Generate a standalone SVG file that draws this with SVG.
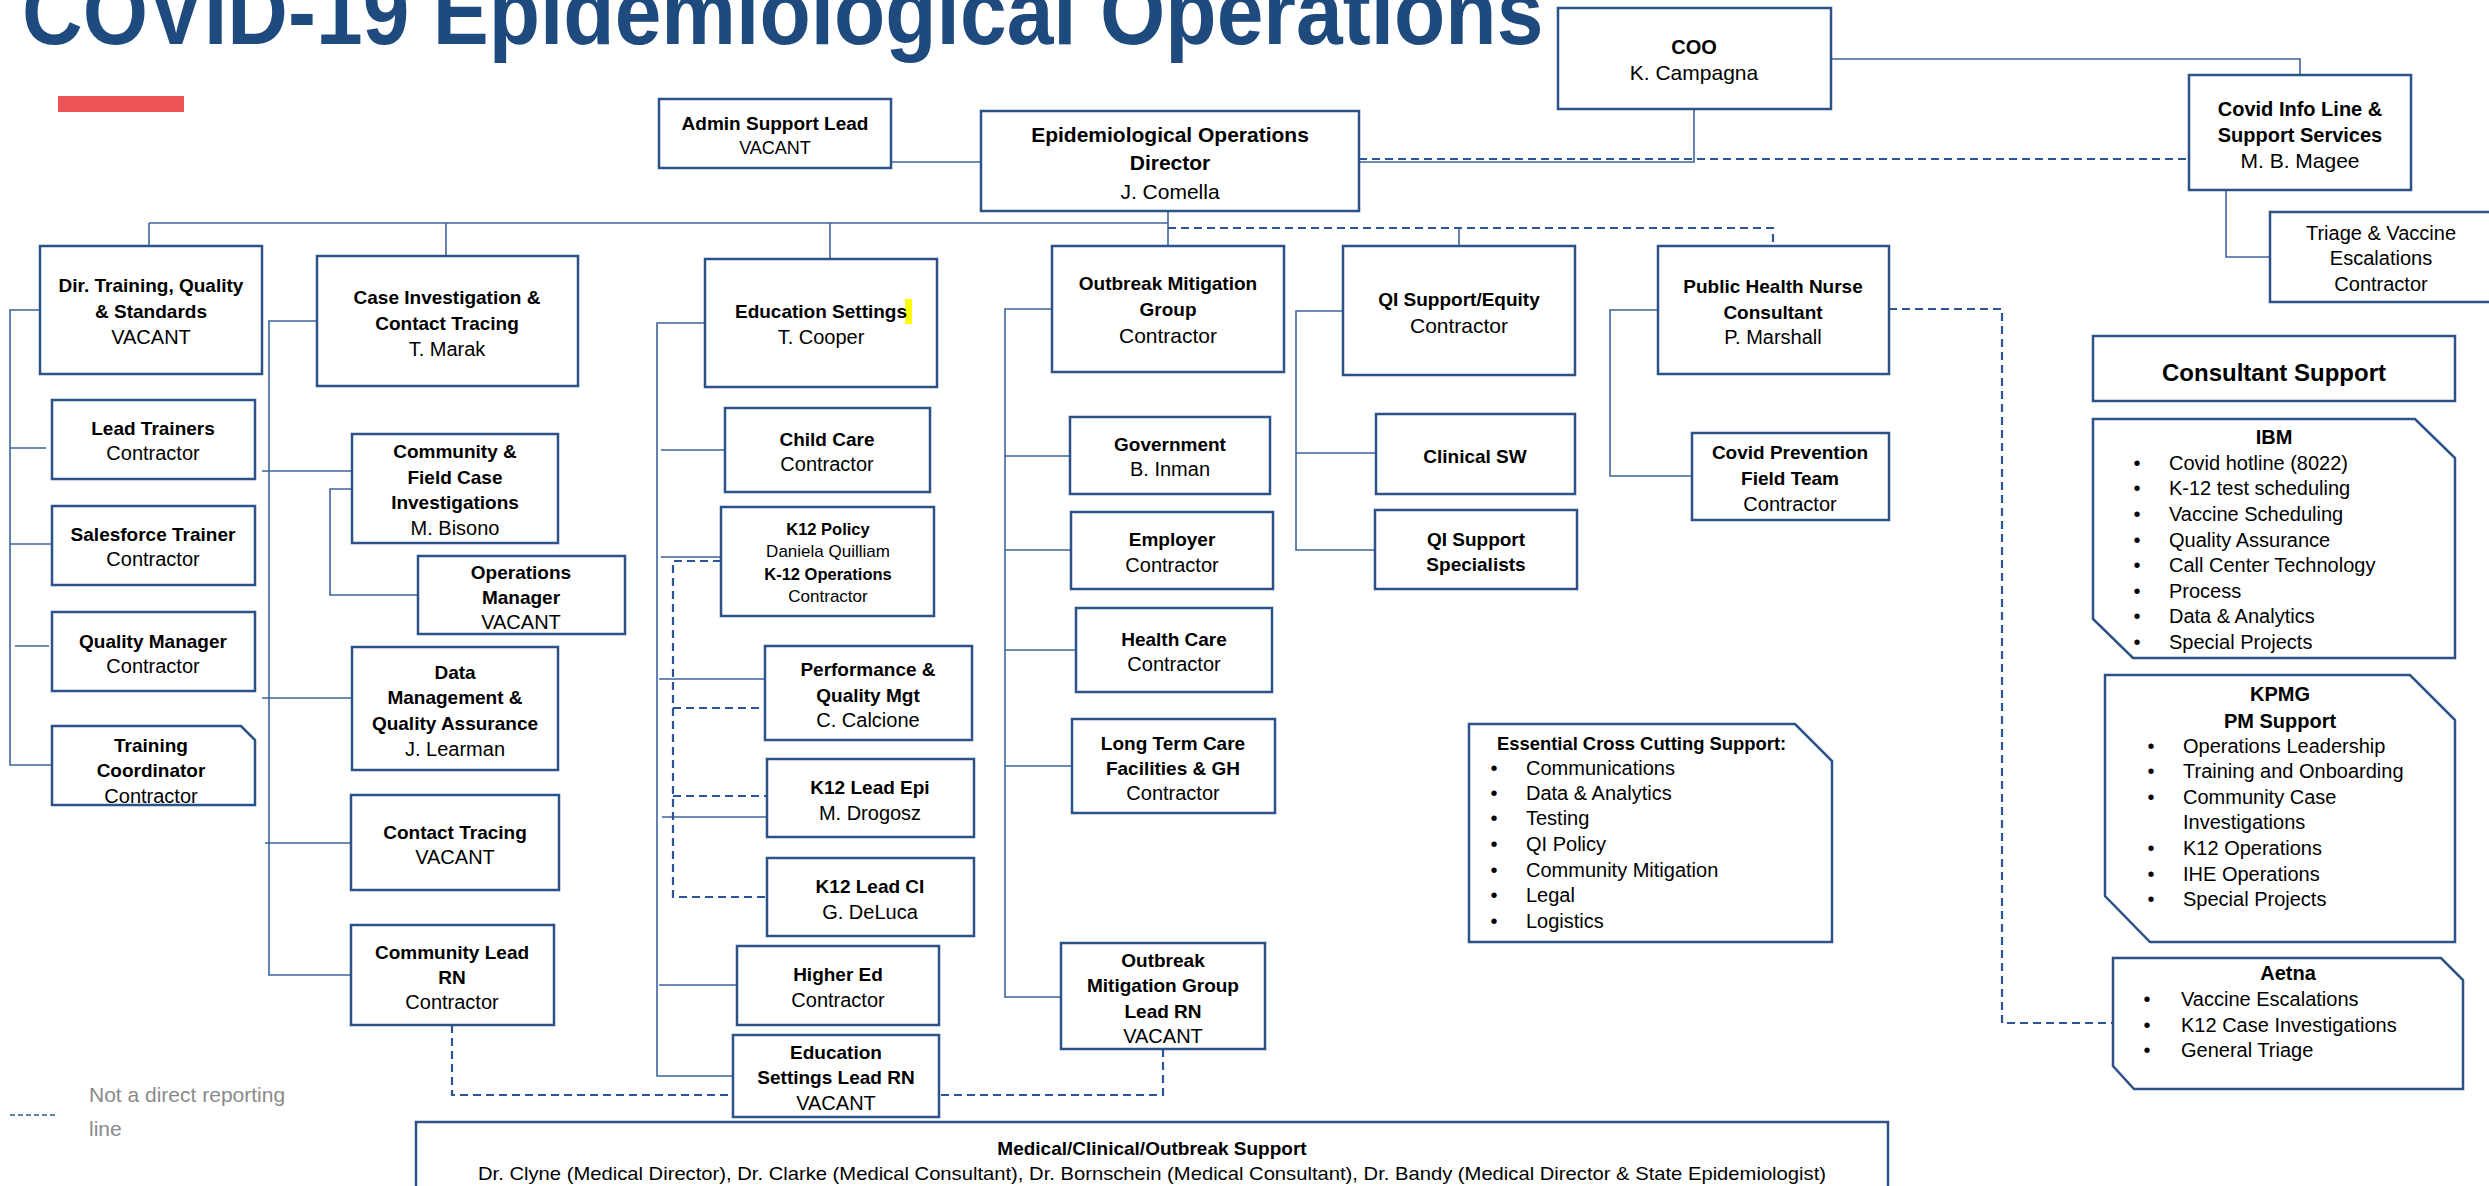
<svg xmlns="http://www.w3.org/2000/svg" width="2489" height="1186" viewBox="0 0 2489 1186">
<style>
text{font-family:"Liberation Sans",Arial,sans-serif;fill:#000;text-anchor:middle}
.box{fill:#fff;stroke:#2c5287;stroke-width:2.5}
.conn{fill:none;stroke:#3d649c;stroke-width:1.6}
.dash{fill:none;stroke:#2c5597;stroke-width:2.2;stroke-dasharray:8 5}
.b{font-weight:bold;font-size:19px}
.r{font-size:20px}
.bt{font-weight:bold;font-size:20px}
.rt{font-size:21px}
.s{font-size:17px}
.sb{font-weight:bold;font-size:16.5px}
.li{font-size:20px;text-anchor:start}
.bu{font-size:20px}
</style>
<rect width="2489" height="1186" fill="#fff"/>
<g id="title">
<text transform="translate(22,44) scale(0.913,1)" x="0" y="0" style="text-anchor:start;font-weight:bold;font-size:92px;fill:#1f4a7e">COVID-19 Epidemiological Operations</text>
<rect x="58" y="96" width="126" height="16" fill="#ee5358"/>
</g>
<g id="connectors">
<path class="conn" d="M891,162 H981"/>
<path class="conn" d="M1694,109 V162 H1359"/>
<path class="dash" d="M1359,159 H2189"/>
<path class="conn" d="M1831,59 H2300 V75"/>
<path class="conn" d="M2226,190 V257 H2270"/>
<path class="conn" d="M149,223 H1168 M1168,211 V246 M149,223 V246 M446,223 V256 M830,223 V259"/>
<path class="dash" d="M1168,228 H1773 V246"/>
<path class="conn" d="M1459,228 V246"/>
<path class="conn" d="M40,310 H10 V765 H52 M10,448 H46 M10,544 H55 M15,646 H49"/>
<path class="conn" d="M317,321 H269 V975 H351 M262,471 H352 M262,698 H352 M265,843 H351"/>
<path class="conn" d="M352,489 H330 V595 H418"/>
<path class="conn" d="M705,323 H657 V1076 H733 M661,450 H725 M661,557 H721 M659,679 H765 M662,817 H767 M659,985 H737"/>
<path class="dash" d="M721,561 H673 V897 H767 M673,708 H765 M673,796 H767"/>
<path class="conn" d="M1052,309 H1005 V997 H1061 M1005,456 H1070 M1005,550 H1071 M1005,650 H1076 M1005,766 H1072"/>
<path class="conn" d="M1343,311 H1296 V550 H1375 M1296,453 H1376"/>
<path class="conn" d="M1658,310 H1610 V476 H1692"/>
<path class="dash" d="M1889,309 H2002 V1023 H2112"/>
<path class="dash" d="M452,1025 V1095 H1163 V1050"/>
</g>
<g id="admin"><rect class="box" x="659" y="99" width="232" height="69"/>
<text class="b" x="775" y="130">Admin Support Lead</text><text class="r" x="775" y="154" style="font-size:18px">VACANT</text></g>
<g id="director"><rect class="box" x="981" y="111" width="378" height="100"/>
<text x="1170" y="142" style="font-weight:bold;font-size:21px">Epidemiological Operations</text>
<text x="1170" y="170" style="font-weight:bold;font-size:21px">Director</text>
<text x="1170" y="199" style="font-size:21px">J. Comella</text></g>
<g id="coo"><rect class="box" x="1558" y="8" width="273" height="101"/>
<text class="bt" x="1694" y="54">COO</text><text class="rt" x="1694" y="80">K. Campagna</text></g>
<g id="infoline"><rect class="box" x="2189" y="75" width="222" height="115"/>
<text class="bt" x="2300" y="116">Covid Info Line &amp;</text><text class="bt" x="2300" y="142">Support Services</text><text class="rt" x="2300" y="168">M. B. Magee</text></g>
<g id="triage"><rect class="box" x="2270" y="212" width="240" height="90"/>
<text class="r" x="2381" y="240">Triage &amp; Vaccine</text><text class="r" x="2381" y="265">Escalations</text><text class="r" x="2381" y="291">Contractor</text></g>
<g id="dirtraining"><rect class="box" x="40" y="246" width="222" height="128"/>
<text class="b" x="151" y="292">Dir. Training, Quality</text><text class="b" x="151" y="318">&amp; Standards</text><text class="r" x="151" y="344">VACANT</text></g>
<g id="leadtrainers"><rect class="box" x="52" y="400" width="203" height="79"/>
<text class="b" x="153" y="435">Lead Trainers</text><text class="r" x="153" y="460">Contractor</text></g>
<g id="salesforce"><rect class="box" x="52" y="506" width="203" height="79"/>
<text class="b" x="153" y="541">Salesforce Trainer</text><text class="r" x="153" y="566">Contractor</text></g>
<g id="qualitymgr"><rect class="box" x="52" y="612" width="203" height="79"/>
<text class="b" x="153" y="648">Quality Manager</text><text class="r" x="153" y="673">Contractor</text></g>
<g id="trainingcoord"><path class="box" d="M52,726 H241 L255,740 V805 H52 Z"/>
<text class="b" x="151" y="752">Training</text><text class="b" x="151" y="777">Coordinator</text><text class="r" x="151" y="803">Contractor</text></g>
<g id="caseinv"><rect class="box" x="317" y="256" width="261" height="130"/>
<text class="b" x="447" y="304">Case Investigation &amp;</text><text class="b" x="447" y="330">Contact Tracing</text><text class="r" x="447" y="356">T. Marak</text></g>
<g id="community"><rect class="box" x="352" y="434" width="206" height="109"/>
<text class="b" x="455" y="458">Community &amp;</text><text class="b" x="455" y="484">Field Case</text><text class="b" x="455" y="509">Investigations</text><text class="r" x="455" y="535">M. Bisono</text></g>
<g id="opsmgr"><rect class="box" x="418" y="556" width="207" height="78"/>
<text class="b" x="521" y="579">Operations</text><text class="b" x="521" y="604">Manager</text><text class="r" x="521" y="629">VACANT</text></g>
<g id="datamgmt"><rect class="box" x="352" y="647" width="206" height="123"/>
<text class="b" x="455" y="679">Data</text><text class="b" x="455" y="704">Management &amp;</text><text class="b" x="455" y="730">Quality Assurance</text><text class="r" x="455" y="756">J. Learman</text></g>
<g id="contacttracing"><rect class="box" x="351" y="795" width="208" height="95"/>
<text class="b" x="455" y="839">Contact Tracing</text><text class="r" x="455" y="864">VACANT</text></g>
<g id="communityrn"><rect class="box" x="351" y="925" width="203" height="100"/>
<text class="b" x="452" y="959">Community Lead</text><text class="b" x="452" y="984">RN</text><text class="r" x="452" y="1009">Contractor</text></g>
<g id="edsettings"><rect class="box" x="705" y="259" width="232" height="128"/>
<rect x="905" y="299" width="7" height="25" fill="#ffff00"/>
<text class="b" x="821" y="318">Education Settings</text><text class="r" x="821" y="344">T. Cooper</text></g>
<g id="childcare"><rect class="box" x="725" y="408" width="205" height="84"/>
<text class="b" x="827" y="446">Child Care</text><text class="r" x="827" y="471">Contractor</text></g>
<g id="k12policy"><rect class="box" x="721" y="507" width="213" height="109"/>
<text class="sb" x="828" y="535">K12 Policy</text><text class="s" x="828" y="557">Daniela Quilliam</text><text class="sb" x="828" y="580">K-12 Operations</text><text class="s" x="828" y="602">Contractor</text></g>
<g id="perfquality"><rect class="box" x="765" y="646" width="207" height="94"/>
<text class="b" x="868" y="676">Performance &amp;</text><text class="b" x="868" y="702">Quality Mgt</text><text class="r" x="868" y="727">C. Calcione</text></g>
<g id="k12epi"><rect class="box" x="767" y="759" width="207" height="78"/>
<text class="b" x="870" y="794">K12 Lead Epi</text><text class="r" x="870" y="820">M. Drogosz</text></g>
<g id="k12ci"><rect class="box" x="767" y="858" width="207" height="78"/>
<text class="b" x="870" y="893">K12 Lead CI</text><text class="r" x="870" y="919">G. DeLuca</text></g>
<g id="highered"><rect class="box" x="737" y="946" width="202" height="79"/>
<text class="b" x="838" y="981">Higher Ed</text><text class="r" x="838" y="1007">Contractor</text></g>
<g id="edleadrn"><rect class="box" x="733" y="1035" width="206" height="82"/>
<text class="b" x="836" y="1059">Education</text><text class="b" x="836" y="1084">Settings Lead RN</text><text class="r" x="836" y="1110">VACANT</text></g>
<g id="outbreak"><rect class="box" x="1052" y="246" width="232" height="126"/>
<text class="b" x="1168" y="290">Outbreak Mitigation</text><text class="b" x="1168" y="316">Group</text><text class="rt" x="1168" y="343">Contractor</text></g>
<g id="government"><rect class="box" x="1070" y="417" width="200" height="77"/>
<text class="b" x="1170" y="451">Government</text><text class="r" x="1170" y="476">B. Inman</text></g>
<g id="employer"><rect class="box" x="1071" y="512" width="202" height="77"/>
<text class="b" x="1172" y="546">Employer</text><text class="r" x="1172" y="572">Contractor</text></g>
<g id="healthcare"><rect class="box" x="1076" y="608" width="196" height="84"/>
<text class="b" x="1174" y="646">Health Care</text><text class="r" x="1174" y="671">Contractor</text></g>
<g id="longterm"><rect class="box" x="1072" y="719" width="203" height="94"/>
<text class="b" x="1173" y="750">Long Term Care</text><text class="b" x="1173" y="775">Facilities &amp; GH</text><text class="r" x="1173" y="800">Contractor</text></g>
<g id="omgleadrn"><rect class="box" x="1061" y="943" width="204" height="106"/>
<text class="b" x="1163" y="967">Outbreak</text><text class="b" x="1163" y="992">Mitigation Group</text><text class="b" x="1163" y="1018">Lead RN</text><text class="r" x="1163" y="1043">VACANT</text></g>
<g id="qisupport"><rect class="box" x="1343" y="246" width="232" height="129"/>
<text class="b" x="1459" y="306">QI Support/Equity</text><text class="rt" x="1459" y="333">Contractor</text></g>
<g id="clinicalsw"><rect class="box" x="1376" y="414" width="199" height="80"/>
<text class="b" x="1475" y="463">Clinical SW</text></g>
<g id="qispecialists"><rect class="box" x="1375" y="510" width="202" height="79"/>
<text class="b" x="1476" y="546">QI Support</text><text class="b" x="1476" y="571">Specialists</text></g>
<g id="phn"><rect class="box" x="1658" y="246" width="231" height="128"/>
<text class="b" x="1773" y="293">Public Health Nurse</text><text class="b" x="1773" y="319">Consultant</text><text class="r" x="1773" y="344">P. Marshall</text></g>
<g id="covidprev"><rect class="box" x="1692" y="433" width="197" height="87"/>
<text class="b" x="1790" y="459">Covid Prevention</text><text class="b" x="1790" y="485">Field Team</text><text class="r" x="1790" y="511">Contractor</text></g>
<g id="essential"><path class="box" d="M1469,724 H1795 L1832,761 V942 H1469 Z"/>
<text x="1497" y="750" style="text-anchor:start;font-weight:bold;font-size:18.4px">Essential Cross Cutting Support:</text>
<g class="bu"><text x="1494" y="775">•</text><text x="1494" y="800">•</text><text x="1494" y="825">•</text><text x="1494" y="851">•</text><text x="1494" y="877">•</text><text x="1494" y="902">•</text><text x="1494" y="928">•</text></g>
<text class="li" x="1526" y="775">Communications</text><text class="li" x="1526" y="800">Data &amp; Analytics</text><text class="li" x="1526" y="825">Testing</text><text class="li" x="1526" y="851">QI Policy</text><text class="li" x="1526" y="877">Community Mitigation</text><text class="li" x="1526" y="902">Legal</text><text class="li" x="1526" y="928">Logistics</text></g>
<g id="consultant"><rect class="box" x="2093" y="336" width="362" height="65"/>
<text x="2274" y="381" style="font-weight:bold;font-size:24px">Consultant Support</text></g>
<g id="ibm"><path class="box" d="M2093,419 H2415 L2455,458 V658 H2133 L2093,619 Z"/>
<text class="bt" x="2274" y="444">IBM</text>
<g class="bu"><text x="2137" y="470">•</text><text x="2137" y="495">•</text><text x="2137" y="521">•</text><text x="2137" y="547">•</text><text x="2137" y="572">•</text><text x="2137" y="598">•</text><text x="2137" y="623">•</text><text x="2137" y="649">•</text></g>
<text class="li" x="2169" y="470">Covid hotline (8022)</text><text class="li" x="2169" y="495">K-12 test scheduling</text><text class="li" x="2169" y="521">Vaccine Scheduling</text><text class="li" x="2169" y="547">Quality Assurance</text><text class="li" x="2169" y="572">Call Center Technology</text><text class="li" x="2169" y="598">Process</text><text class="li" x="2169" y="623">Data &amp; Analytics</text><text class="li" x="2169" y="649">Special Projects</text></g>
<g id="kpmg"><path class="box" d="M2105,675 H2410 L2455,720 V942 H2150 L2105,896 Z"/>
<text class="bt" x="2280" y="701">KPMG</text><text class="bt" x="2280" y="728">PM Support</text>
<g class="bu"><text x="2151" y="753">•</text><text x="2151" y="778">•</text><text x="2151" y="804">•</text><text x="2151" y="855">•</text><text x="2151" y="881">•</text><text x="2151" y="906">•</text></g>
<text class="li" x="2183" y="753">Operations Leadership</text><text class="li" x="2183" y="778">Training and Onboarding</text><text class="li" x="2183" y="804">Community Case</text><text class="li" x="2183" y="829">Investigations</text><text class="li" x="2183" y="855">K12 Operations</text><text class="li" x="2183" y="881">IHE Operations</text><text class="li" x="2183" y="906">Special Projects</text></g>
<g id="aetna"><path class="box" d="M2113,958 H2441 L2463,980 V1089 H2134 L2113,1066 Z"/>
<text class="bt" x="2288" y="980">Aetna</text>
<g class="bu"><text x="2147" y="1006">•</text><text x="2147" y="1032">•</text><text x="2147" y="1057">•</text></g>
<text class="li" x="2181" y="1006">Vaccine Escalations</text><text class="li" x="2181" y="1032">K12 Case Investigations</text><text class="li" x="2181" y="1057">General Triage</text></g>
<g id="medical"><rect class="box" x="416" y="1122" width="1472" height="90"/>
<text x="1152" y="1155" style="font-weight:bold;font-size:19px">Medical/Clinical/Outbreak Support</text>
<text x="1152" y="1180" style="font-size:18.5px" textLength="1348" lengthAdjust="spacingAndGlyphs">Dr. Clyne (Medical Director), Dr. Clarke (Medical Consultant), Dr. Bornschein (Medical Consultant), Dr. Bandy (Medical Director &amp; State Epidemiologist)</text></g>
<g id="legend">
<path class="dash" d="M10,1115 H56" style="stroke-width:1.5;stroke-dasharray:5 3"/>
<text x="89" y="1102" style="text-anchor:start;font-size:21px;fill:#8a8a8a">Not a direct reporting</text>
<text x="89" y="1136" style="text-anchor:start;font-size:21px;fill:#8a8a8a">line</text>
</g>
</svg>
